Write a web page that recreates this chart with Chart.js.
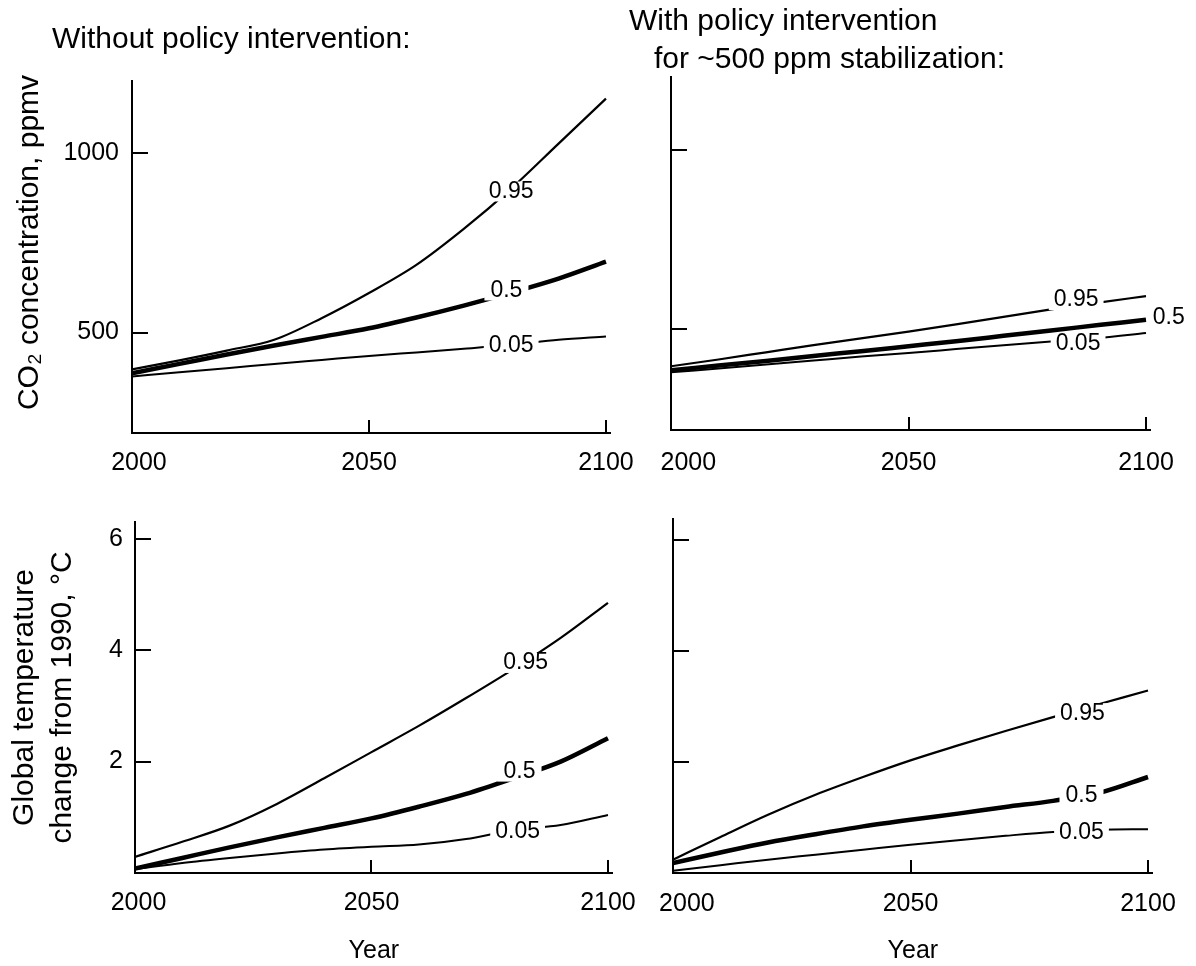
<!DOCTYPE html>
<html>
<head>
<meta charset="utf-8">
<script src="https://cdn.jsdelivr.net/npm/chart.js@4.4.1/dist/chart.umd.min.js"></script>
<style>
  html, body { margin: 0; padding: 0; background: #fff; overflow: hidden; }
  #wrap { position: relative; width: 1196px; height: 966px; }
  canvas { position: absolute; }
</style>
</head>
<body>
<div id="wrap">
  <canvas id="co2NoPolicy" width="660" height="485" style="left:0;top:0"></canvas>
  <canvas id="co2Policy" width="596" height="485" style="left:600px;top:0"></canvas>
  <canvas id="tempNoPolicy" width="660" height="481" style="left:0;top:485px"></canvas>
  <canvas id="tempPolicy" width="596" height="481" style="left:600px;top:485px"></canvas>
</div>
<script>
// values, one point per decade
const years = [2000, 2010, 2020, 2030, 2040, 2050, 2060, 2070, 2080, 2090, 2100];
const quantiles = ['0.95', '0.5', '0.05'];

const co2NoPolicy95 = [398, 423, 450, 480, 540, 610, 688, 788, 900, 1025, 1150];
const co2NoPolicy50 = [387, 413, 439, 464, 488, 512, 542, 575, 611, 650, 697];
const co2NoPolicy05 = [378, 390, 401, 413, 424, 435, 445, 455, 466, 480, 489];

const co2Policy95 = [396, 415, 435, 455, 474, 493, 513, 534, 555, 574, 592];
const co2Policy50 = [385, 398, 411, 425, 438, 452, 466, 481, 496, 511, 526];
const co2Policy05 = [379, 390, 401, 412, 423, 433, 444, 455, 465, 475, 489];

const tempNoPolicy95 = [0.29, 0.56, 0.85, 1.24, 1.70, 2.17, 2.64, 3.14, 3.66, 4.22, 4.85];
const tempNoPolicy50 = [0.08, 0.27, 0.46, 0.64, 0.81, 0.98, 1.19, 1.42, 1.70, 2.00, 2.42];
const tempNoPolicy05 = [0.07, 0.18, 0.27, 0.35, 0.42, 0.47, 0.51, 0.61, 0.77, 0.86, 1.04];

const tempPolicy95 = [0.24, 0.65, 1.05, 1.41, 1.73, 2.03, 2.30, 2.56, 2.81, 3.05, 3.29];
const tempPolicy50 = [0.18, 0.37, 0.55, 0.70, 0.84, 0.96, 1.07, 1.19, 1.30, 1.45, 1.73];
const tempPolicy05 = [0.04, 0.14, 0.24, 0.33, 0.42, 0.51, 0.59, 0.67, 0.74, 0.78, 0.79];

// where the quantile labels sit on each curve (year, value)
const co2NoPolicyTagYears = [2080, 2079, 2080];
const co2NoPolicyTagValues = [892, 617, 464];
const co2PolicyTagYears = [2085.3, 2104.8, 2085.7];
const co2PolicyTagValues = [581, 533, 458];
const tempNoPolicyTagYears = [2082.6, 2081.3, 2080.9];
const tempNoPolicyTagValues = [3.77, 1.82, 0.75];
const tempPolicyTagYears = [2086.2, 2086, 2086];
const tempPolicyTagValues = [2.88, 1.39, 0.73];

const yearTicks = [2000, 2050, 2100];
const co2Ticks = [500, 1000];
const tempTicks = [2, 4, 6];

const FONT = '"Liberation Sans", Arial, Helvetica, sans-serif';
Chart.defaults.font.family = FONT;
Chart.defaults.color = '#000';

const lineWidths = [2.2, 4.5, 2];

// tick marks pointing into the plot
const innerTicks = {
    id: 'innerTicks',
    afterDatasetsDraw(chart) {
        const {ctx, chartArea: a, scales: {x, y}} = chart;
        ctx.save();
        ctx.strokeStyle = '#000';
        ctx.lineWidth = 2;
        y.ticks.forEach(t => {
            const py = Math.round(y.getPixelForValue(t.value));
            ctx.beginPath();
            ctx.moveTo(a.left, py);
            ctx.lineTo(a.left + 16, py);
            ctx.stroke();
        });
        x.ticks.forEach(t => {
            if (t.value === x.min) return;
            const px = Math.round(x.getPixelForValue(t.value));
            ctx.beginPath();
            ctx.moveTo(px, a.bottom);
            ctx.lineTo(px, a.bottom - 13);
            ctx.stroke();
        });
        ctx.restore();
    }
};

// quantile labels written into a gap of the curve
const lineTags = {
    id: 'lineTags',
    afterDatasetsDraw(chart) {
        const {ctx, scales: {x, y}} = chart;
        ctx.save();
        ctx.font = '23px ' + FONT;
        ctx.textAlign = 'center';
        ctx.textBaseline = 'middle';
        chart.data.datasets.forEach(ds => {
            const t = ds.tag;
            const px = x.getPixelForValue(t.year);
            const py = y.getPixelForValue(t.value);
            if (t.cut) {
                const w = Math.max(ctx.measureText(ds.label).width + 10, 44);
                ctx.fillStyle = '#fff';
                ctx.fillRect(px - w / 2, py - 10, w, 20);
            }
            ctx.fillStyle = '#000';
            ctx.fillText(ds.label, px, py);
        });
        ctx.restore();
    }
};

function makePanel(id, cfg) {
    const datasets = cfg.series.map((vals, i) => ({
        label: quantiles[i],
        data: years.map((yr, j) => ({x: yr, y: vals[j]})),
        borderColor: '#000',
        borderWidth: lineWidths[i],
        pointRadius: 0,
        cubicInterpolationMode: 'monotone',
        tag: {year: cfg.tagYears[i], value: cfg.tagValues[i], cut: cfg.cut ? cfg.cut[i] : true}
    }));

    return new Chart(document.getElementById(id), {
        type: 'line',
        data: {datasets: datasets},
        plugins: [innerTicks, lineTags],
        options: {
            responsive: false,
            animation: false,
            devicePixelRatio: 1,
            events: [],
            layout: {padding: cfg.padding},
            plugins: {
                legend: {display: false},
                tooltip: {enabled: false},
                title: cfg.heading ? {
                    display: true,
                    text: cfg.heading,
                    align: 'start',
                    color: '#000',
                    font: {size: 30, weight: 'normal', lineHeight: cfg.headingLine},
                    padding: cfg.headingPad
                } : {display: false},
                subtitle: cfg.sideTitle ? {
                    display: true,
                    position: 'left',
                    fullSize: true,
                    align: 'center',
                    text: cfg.sideTitle,
                    color: '#000',
                    font: {size: 30, weight: 'normal', lineHeight: 1.2},
                    padding: cfg.sidePad
                } : {display: false}
            },
            scales: {
                x: {
                    type: 'linear',
                    min: 2000,
                    max: 2101,
                    afterBuildTicks: s => { s.ticks = yearTicks.map(v => ({value: v})); },
                    afterFit: s => { s.height = cfg.xHeight; },
                    grid: {display: false, drawTicks: false},
                    border: {display: true, color: '#000', width: 2},
                    ticks: {
                        color: '#000',
                        font: {size: 25},
                        padding: cfg.xPad,
                        maxRotation: 0,
                        autoSkip: false,
                        // the first year label sits a little right of the axis corner
                        callback: v => (v === 2000 ? ' '.repeat(cfg.firstShift) : '') + v
                    },
                    title: cfg.xTitle ? {
                        display: true,
                        text: cfg.xTitle,
                        color: '#000',
                        font: {size: 25},
                        padding: {top: 0, bottom: 0}
                    } : {display: false}
                },
                y: {
                    type: 'linear',
                    min: cfg.yMin,
                    max: cfg.yMax,
                    afterBuildTicks: s => { s.ticks = cfg.yTicks.map(v => ({value: v})); },
                    afterFit: s => { s.width = cfg.yWidth; },
                    grid: {display: false, drawTicks: false},
                    border: {display: true, color: '#000', width: 2},
                    ticks: {
                        display: cfg.yLabels,
                        color: '#000',
                        font: {size: 25},
                        padding: cfg.yPad,
                        autoSkip: false,
                        callback: v => String(v)
                    },
                    title: cfg.yTitle ? {
                        display: true,
                        text: cfg.yTitle,
                        color: '#000',
                        font: {size: 30, lineHeight: 1.27},
                        padding: {top: 6, bottom: 0}
                    } : {display: false}
                }
            }
        }
    });
}

makePanel('co2NoPolicy', {
    series: [co2NoPolicy95, co2NoPolicy50, co2NoPolicy05],
    tagYears: co2NoPolicyTagYears,
    tagValues: co2NoPolicyTagValues,
    heading: 'Without policy intervention:',
    headingLine: 1.2,
    headingPad: {top: 22, bottom: 23},
    sideTitle: 'CO\u2082 concentration, ppmv',
    sidePad: {top: -40.4, bottom: 5.4},
    padding: {left: 52, top: 0, right: 49.3, bottom: 0},
    yWidth: 79,
    xHeight: 52,
    xPad: 15,
    yPad: 13,
    firstShift: 2,
    yMin: 221,
    yMax: 1199,
    yTicks: co2Ticks,
    yLabels: true
});

makePanel('co2Policy', {
    series: [co2Policy95, co2Policy50, co2Policy05],
    tagYears: co2PolicyTagYears,
    tagValues: co2PolicyTagValues,
    cut: [true, false, true],
    heading: ['With policy intervention', '   for ~500 ppm stabilization:'],
    headingLine: 38 / 30,
    headingPad: {top: 3, bottom: -2},
    padding: {left: 29, top: 0, right: 45.25, bottom: 0},
    yWidth: 42,
    xHeight: 55,
    xPad: 18,
    yPad: 14,
    firstShift: 5,
    yMin: 218,
    yMax: 1204,
    yTicks: co2Ticks,
    yLabels: false
});

makePanel('tempNoPolicy', {
    series: [tempNoPolicy95, tempNoPolicy50, tempNoPolicy05],
    tagYears: tempNoPolicyTagYears,
    tagValues: tempNoPolicyTagValues,
    yTitle: ['Global temperature', 'change from 1990, \u00b0C'],
    xTitle: 'Year',
    padding: {left: 0, top: 37, right: 47.3, bottom: 0},
    yWidth: 135,
    xHeight: 93,
    xPad: 15,
    yPad: 12,
    firstShift: 1,
    yMin: 0,
    yMax: 6.3,
    yTicks: tempTicks,
    yLabels: true
});

makePanel('tempPolicy', {
    series: [tempPolicy95, tempPolicy50, tempPolicy05],
    tagYears: tempPolicyTagYears,
    tagValues: tempPolicyTagValues,
    xTitle: 'Year',
    padding: {left: 0, top: 34, right: 43.25, bottom: 0},
    yWidth: 73,
    xHeight: 93,
    xPad: 16,
    yPad: 13,
    firstShift: 4,
    yMin: 0,
    yMax: 6.38,
    yTicks: tempTicks,
    yLabels: false
});
</script>
</body>
</html>
